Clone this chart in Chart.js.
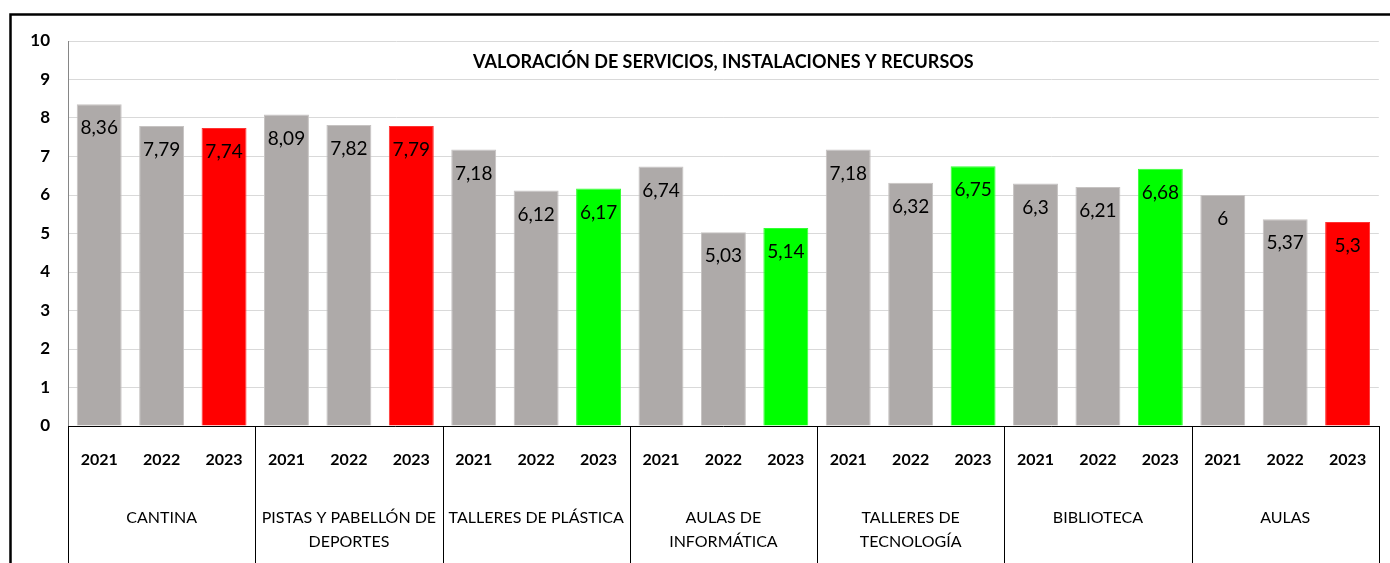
<!DOCTYPE html>
<html>
<head>
<meta charset="utf-8">
<script src="https://cdn.jsdelivr.net/npm/chart.js@4"></script>
<style>
    html, body { margin: 0; padding: 0; background: #fff; }
    #wrap { width: 1390px; height: 563px; position: relative; }
</style>
</head>
<body>
<div id="wrap"><canvas id="chart" width="1390" height="563"></canvas></div>
<script>
const title = 'VALORACIÓN DE SERVICIOS, INSTALACIONES Y RECURSOS';
const groups = [
    'CANTINA',
    ['PISTAS Y PABELLÓN DE', 'DEPORTES'],
    'TALLERES DE PLÁSTICA',
    ['AULAS DE', 'INFORMÁTICA'],
    ['TALLERES DE', 'TECNOLOGÍA'],
    'BIBLIOTECA',
    'AULAS'
];
const years = ['2021', '2022', '2023'];
const v2021 = [8.36, 8.09, 7.18, 6.74, 7.18, 6.3, 6];
const v2022 = [7.79, 7.82, 6.12, 5.03, 6.32, 6.21, 5.37];
const v2023 = [7.74, 7.79, 6.17, 5.14, 6.75, 6.68, 5.3];
const yTicks = [0, 1, 2, 3, 4, 5, 6, 7, 8, 9, 10];

const FONT = 'Lato, "Open Sans", sans-serif';
const GRAY = '#AEAAA9';
const EDGE = '#C6C3C2';

// 2023 bar: green if it improved on 2022, red otherwise
const colors2023 = v2023.map((v, i) => v >= v2022[i] ? '#00FF00' : '#FF0000');
const edges2023 = v2023.map((v, i) => v >= v2022[i] ? '#33FF33' : '#FF3333');

const framePlugin = {
    id: 'frame',
    beforeDraw(chart) {
        const ctx = chart.ctx;
        ctx.save();
        ctx.fillStyle = '#fff';
        ctx.fillRect(0, 0, chart.width, chart.height);
        ctx.strokeStyle = '#000';
        ctx.lineWidth = 2.5;
        ctx.strokeRect(10.5, 14.5, chart.width + 20, chart.height + 20);
        ctx.restore();
    }
};

const extrasPlugin = {
    id: 'extras',
    afterDatasetsDraw(chart) {
        const ctx = chart.ctx;
        const area = chart.chartArea;
        const x = chart.scales.x;
        ctx.save();

        // title inside plot area
        ctx.fillStyle = '#000';
        ctx.font = 'bold 18px ' + FONT;
        ctx.textAlign = 'center';
        ctx.textBaseline = 'middle';
        ctx.fillText(title, (area.left + area.right) / 2, area.top + 21);

        // value labels and year labels
        chart.data.datasets.forEach((ds, di) => {
            chart.getDatasetMeta(di).data.forEach((bar, i) => {
                ctx.font = '19px ' + FONT;
                ctx.fillText(String(ds.data[i]).replace('.', ','), bar.x, bar.y + 24);
                ctx.font = 'bold 16px ' + FONT;
                ctx.fillText(ds.label, bar.x, area.bottom + 34);
            });
        });

        // group separators below the axis
        ctx.strokeStyle = '#000';
        ctx.lineWidth = 1;
        const n = chart.data.labels.length;
        for (let i = 0; i <= n; i++) {
            let px;
            if (i === 0) px = area.left;
            else if (i === n) px = area.right;
            else px = (x.getPixelForValue(i - 1) + x.getPixelForValue(i)) / 2;
            px = Math.round(px) + 0.5;
            ctx.beginPath();
            ctx.moveTo(px, area.bottom);
            ctx.lineTo(px, chart.height);
            ctx.stroke();
        }
        ctx.restore();
    }
};

const mkSet = (label, data, bg, border) => ({
    label: label,
    data: data,
    backgroundColor: bg,
    borderColor: border,
    borderWidth: 1,
    categoryPercentage: 1,
    barPercentage: 0.72
});

new Chart(document.getElementById('chart').getContext('2d'), {
    type: 'bar',
    data: {
        labels: groups,
        datasets: [
            mkSet(years[0], v2021, GRAY, EDGE),
            mkSet(years[1], v2022, GRAY, EDGE),
            mkSet(years[2], v2023, colors2023, edges2023)
        ]
    },
    options: {
        responsive: false,
        animation: false,
        layout: { padding: { top: 41, right: 11, left: 0, bottom: 0 } },
        plugins: {
            legend: { display: false },
            tooltip: { enabled: false }
        },
        scales: {
            x: {
                grid: { display: false, drawTicks: false },
                border: { display: true, color: '#000', width: 1 },
                ticks: {
                    color: '#000',
                    font: { family: FONT, size: 16, lineHeight: 1.55 },
                    padding: 79,
                    maxRotation: 0,
                    autoSkip: false
                },
                afterFit(scale) { scale.height = 137; }
            },
            y: {
                min: 0,
                max: 10,
                afterBuildTicks(scale) { scale.ticks = yTicks.map(v => ({ value: v })); },
                grid: { color: '#D9D9D9', drawTicks: false },
                border: { display: true, color: '#868686', width: 1 },
                ticks: {
                    color: '#000',
                    font: { family: FONT, size: 17, weight: 'bold' },
                    padding: 18
                },
                afterFit(scale) { scale.width = 68; }
            }
        }
    },
    plugins: [framePlugin, extrasPlugin]
});
</script>
</body>
</html>
